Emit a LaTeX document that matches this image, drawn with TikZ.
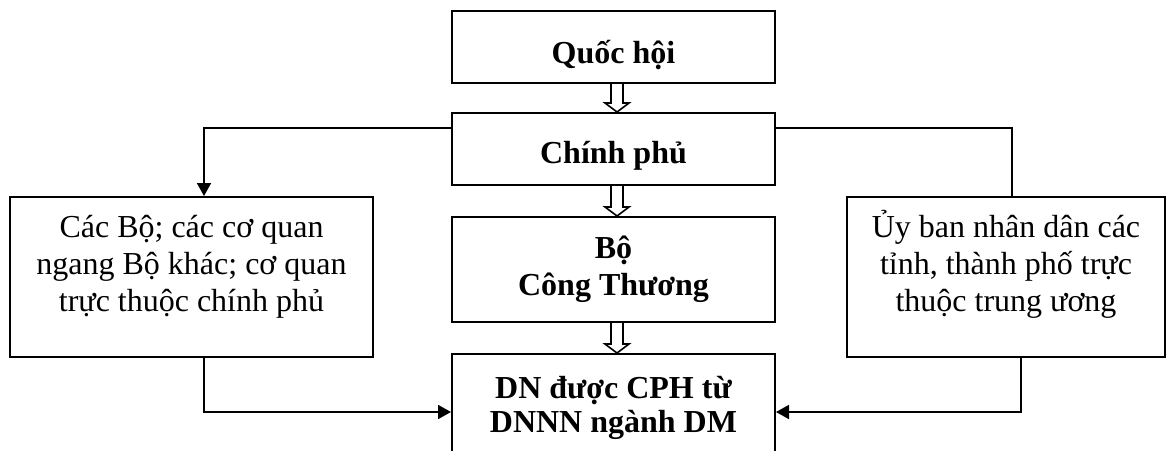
\documentclass[tikz,border=0pt]{standalone}
\usepackage{fontspec}
\setmainfont{Liberation Serif}
\usetikzlibrary{arrows.meta,calc}

\tikzset{
  hop/.style={draw, line width=1pt, inner sep=0pt, align=center,
    font=\fontsize{16}{18.5}\selectfont},
  hopdam/.style={hop, font=\fontsize{16}{18.5}\selectfont\bfseries,
    minimum width=161.5pt},
  hopben/.style={hop, text height=57pt, text depth=23pt, minimum height=80pt},
  lien/.style={line width=0.9pt},
  mui/.style={-{Triangle[length=6.5pt,width=7pt]}},
  rong/.style={line width=0.8pt, line join=miter},
}

\begin{document}
\begin{tikzpicture}[x=0.5pt,y=-0.5pt]
  \clip (0,0) rectangle (1167,450);
  \fill[white] (0,0) rectangle (1167,450);

  % cot giua
  \node[hopdam, text height=26pt, text depth=10pt, minimum height=36pt] (qh) at (613.5,47) {Quốc hội};
  \node[hopdam, text height=25pt, text depth=11pt, minimum height=36pt] (cp) at (613.5,149) {Chính phủ};
  \node[hopdam, text height=39pt, text depth=13.5pt, minimum height=52.5pt] (bct) at (613.5,269.5) {Bộ\\Công Thương};
  \node[hopdam, font=\fontsize{16}{17}\selectfont\bfseries, text height=39pt, text depth=13pt,
    minimum height=52pt] (dn) at (613.5,406) {DN được CPH từ\\DNNN ngành DM};

  % hai ben
  \node[hopben, minimum width=181.5pt] (cacbo) at (191.5,277)
    {Các Bộ; các cơ quan\\ngang Bộ khác; cơ quan\\trực thuộc chính phủ};
  \node[hopben, minimum width=159pt] (ubnd) at (1006,277)
    {Ủy ban nhân dân các\\tỉnh, thành phố trực\\thuộc trung ương};

  % mui ten rong
  \foreach \a/\b in {qh/cp, cp/bct, bct/dn} {
    \draw[rong] ($(\a.south)+(-2.5,0)$) -- ($(\b.north)+(-2.5,-9)$)
      -- ($(\b.north)+(-8.5,-9)$) -- ($(\b.north)+(3.5,0)$)
      -- ($(\b.north)+(15.5,-9)$) -- ($(\b.north)+(9.5,-9)$)
      -- ($(\a.south)+(9.5,0)$);
  }

  % duong noi
  \coordinate (cpL) at ($(cp.north west)+(0,16)$);
  \coordinate (cpR) at ($(cp.north east)+(0,16)$);
  \coordinate (cbT) at ($(cacbo.north west)+(195,0)$);
  \coordinate (cbB) at ($(cacbo.south west)+(195,0)$);
  \coordinate (ubT) at ($(ubnd.north west)+(166,0)$);
  \coordinate (ubB) at ($(ubnd.south west)+(175,0)$);
  \coordinate (dnL) at ($(dn.north west)+(0,59)$);
  \coordinate (dnR) at ($(dn.north east)+(0,59)$);

  \draw[lien, mui] (cpL) -| (cbT);
  \draw[lien] (cpR) -| (ubT);
  \draw[lien, mui] (cbB) |- (dnL);
  \draw[lien, mui] (ubB) |- (dnR);
\end{tikzpicture}
\end{document}
